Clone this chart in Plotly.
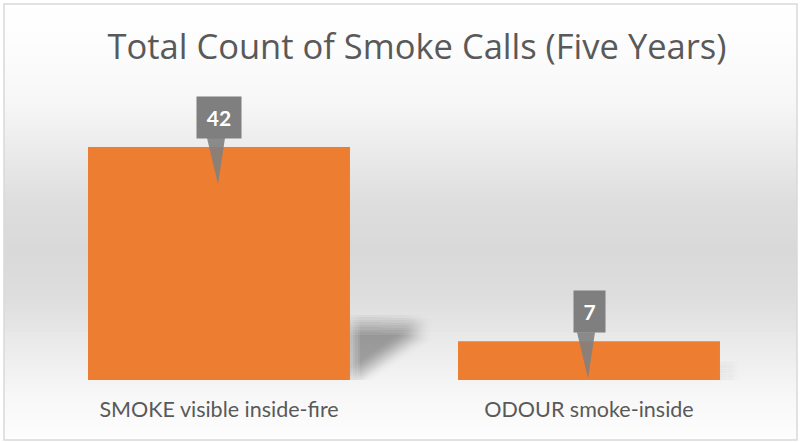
import plotly.graph_objects as go

# Data
categories = ["SMOKE visible inside-fire", "ODOUR smoke-inside"]
counts = [42, 7]
title_text = "Total Count of Smoke Calls (Five Years)"

# Figure geometry (pixels)
W, H = 801, 442
M_L, M_R, M_T, M_B = 34, 27, 100, 62
PLOT_W = W - M_L - M_R
PLOT_H = H - M_T - M_B
Y_MAX = 50.47
BAR_W = 0.708
BAR_COLOR = "#ED7D31"
TEXT_GREY = "#595959"
CALLOUT_GREY = "#7F7F7F"
PX_PER_CAT = PLOT_W / 2
PX_PER_UNIT = PLOT_H / Y_MAX


def px_x(px):
    return (px - M_L) / PLOT_W


def px_y(py):
    return (H - M_B - py) / PLOT_H


def grey(v):
    v = int(round(v))
    return f"rgb({v},{v},{v})"


shapes = []

# vertical background gradient of the chart area
stops = [(0, 255), (40, 253), (100, 247), (150, 235), (200, 222), (250, 217),
         (300, 222), (350, 236), (400, 248), (440, 253)]
step = 4
y = 4
while y < 440:
    yc = y + step / 2
    for (y0, g0), (y1, g1) in zip(stops[:-1], stops[1:]):
        if y0 <= yc <= y1:
            g = g0 + (g1 - g0) * (yc - y0) / (y1 - y0)
            break
    shapes.append(dict(type="rect", xref="paper", yref="paper", layer="below",
                       x0=px_x(4), x1=px_x(797), y0=px_y(y + step + 0.5), y1=px_y(y),
                       line=dict(width=0), fillcolor=grey(g)))
    y += step

# chart border
shapes.append(dict(type="rect", xref="paper", yref="paper", layer="above",
                   x0=px_x(4), x1=px_x(797), y0=px_y(440), y1=px_y(4),
                   line=dict(color="#D9D9D9", width=1.5), fillcolor="rgba(0,0,0,0)"))

# soft perspective shadow cast to the right of each bar:
# the outline is stacked many times with small offsets to blur its edges
outline = [(0.0, 0.240), (0.266, 0.236), (0.318, 0.215), (0.0, 0.0)]
offsets = [-10, -7.5, -5, -2.5, 0, 2.5, 5, 7.5, 10]
alpha = 0.002
for i, v in enumerate(counts):
    xr = i + BAR_W / 2
    h_px = v * PX_PER_UNIT
    for ox in offsets:
        for oy in offsets:
            pts = []
            for fx, fy in outline:
                px_dx = fx * h_px + ox
                px_dy = fy * h_px + oy
                pts.append((xr + max(px_dx, 0) / PX_PER_CAT, px_dy / PX_PER_UNIT))
            path = "M " + " L ".join(f"{a:.5f},{b:.4f}" for a, b in pts) + " Z"
            shapes.append(dict(type="path", xref="x", yref="y", layer="below", path=path,
                               fillcolor=f"rgba(0,0,0,{alpha})", line=dict(width=0)))

# callout pointers from the label boxes down into each bar
for i, v in enumerate(counts):
    shapes.append(dict(type="path", xref="x", yref="y", xsizemode="pixel", ysizemode="pixel",
                       xanchor=i, yanchor=v, layer="above",
                       path="M -12,9 L 6,9 L -1,-37 Z",
                       fillcolor="rgba(127,127,127,0.9)", line=dict(width=0)))

annotations = []
for i, v in enumerate(counts):
    label = str(v)
    annotations.append(dict(x=i, y=v, xref="x", yref="y", text=f"<b>{label}</b>",
                            showarrow=False, yshift=29.5, xshift=0,
                            bgcolor=CALLOUT_GREY, borderpad=2,
                            width=14 + 13 * len(label), height=37,
                            font=dict(family="Lato", size=21, color="white")))

fig = go.Figure(go.Bar(x=categories, y=counts, marker=dict(color=BAR_COLOR, line=dict(width=0)),
                       width=BAR_W, hoverinfo="x+y"))

fig.update_layout(
    width=W, height=H,
    margin=dict(l=M_L, r=M_R, t=M_T, b=M_B, pad=0),
    paper_bgcolor="white", plot_bgcolor="rgba(0,0,0,0)",
    title=dict(text=title_text, x=417 / W, xanchor="center", y=1 - 47 / H, yanchor="middle",
               font=dict(family="Open Sans", size=34.5, color=TEXT_GREY)),
    xaxis=dict(range=[-0.5, 1.5], showgrid=False, zeroline=False, showline=False,
               ticks="", ticklabelstandoff=14,
               tickfont=dict(family="Lato", size=21.5, color=TEXT_GREY)),
    yaxis=dict(range=[0, Y_MAX], visible=False),
    shapes=shapes, annotations=annotations, showlegend=False,
)

fig.write_html("out.html")
